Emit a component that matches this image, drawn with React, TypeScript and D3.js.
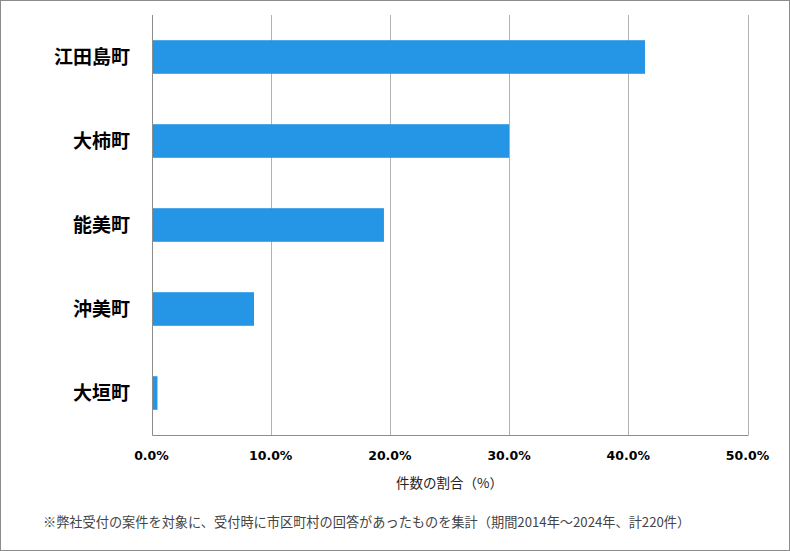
import * as d3 from 'd3'
import { useEffect, useRef } from 'react'

const towns = ['江田島町', '大柿町', '能美町', '沖美町', '大垣町']
const shares = [41.4, 30.0, 19.5, 8.6, 0.5]
const ticks = [0, 10, 20, 30, 40, 50]
const axisTitle = '件数の割合（%）'
const footnote =
  '※弊社受付の案件を対象に、受付時に市区町村の回答があったものを集計（期間2014年～2024年、計220件）'

export default function App() {
  const ref = useRef<SVGSVGElement>(null)

  useEffect(() => {
    if (!ref.current) return
    const svg = d3.select(ref.current)
    svg.selectAll('*').remove()

    const width = 790
    const height = 551
    const margin = { top: 15, right: 42.5, bottom: 116, left: 151.5 }
    const jp = '"Noto Sans CJK JP", "Noto Sans", sans-serif'

    svg.attr('width', width).attr('height', height)

    // Outer frame
    svg
      .append('rect')
      .attr('x', 0.5)
      .attr('y', 0.5)
      .attr('width', width - 1)
      .attr('height', height - 1)
      .attr('fill', '#fff')
      .attr('stroke', '#8c8c8c')

    const x = d3
      .scaleLinear()
      .domain([0, 50])
      .range([margin.left, width - margin.right])

    const y = d3
      .scaleBand()
      .domain(towns)
      .range([margin.top, height - margin.bottom])
      .paddingInner(0.6)
      .paddingOuter(0.3)

    // Gridlines
    svg
      .append('g')
      .selectAll('line')
      .data(ticks.filter(t => t > 0))
      .enter()
      .append('line')
      .attr('x1', d => Math.round(x(d)) + 0.5)
      .attr('x2', d => Math.round(x(d)) + 0.5)
      .attr('y1', margin.top)
      .attr('y2', height - margin.bottom)
      .attr('stroke', '#b3b3b3')

    // Axis lines
    const x0 = Math.round(x(0)) + 0.5
    const yb = Math.round(height - margin.bottom) + 0.5
    svg
      .append('line')
      .attr('x1', x0)
      .attr('x2', x0)
      .attr('y1', margin.top)
      .attr('y2', yb)
      .attr('stroke', '#8c8c8c')
    svg
      .append('line')
      .attr('x1', x0)
      .attr('x2', Math.round(x(50)) + 0.5)
      .attr('y1', yb)
      .attr('y2', yb)
      .attr('stroke', '#8c8c8c')

    // Bars
    svg
      .append('g')
      .selectAll('rect')
      .data(towns.map((t, i) => ({ town: t, value: shares[i] })))
      .enter()
      .append('rect')
      .attr('x', x0 + 0.5)
      .attr('y', d => y(d.town)!)
      .attr('width', d => x(d.value) - x0 - 0.5)
      .attr('height', y.bandwidth())
      .attr('fill', '#2595e5')

    // Tick labels
    svg
      .append('g')
      .selectAll('text')
      .data(ticks)
      .enter()
      .append('text')
      .attr('x', d => x(d))
      .attr('y', 460)
      .attr('text-anchor', 'middle')
      .style('font-family', '"DejaVu Sans", sans-serif')
      .style('font-size', '12.5px')
      .style('font-weight', 'bold')
      .attr('fill', '#000')
      .text(d => d3.format('.1f')(d) + '%')

    // Category labels
    svg
      .append('g')
      .selectAll('text')
      .data(towns)
      .enter()
      .append('text')
      .attr('x', 130)
      .attr('y', d => y(d)! + y.bandwidth() / 2)
      .attr('dy', '0.36em')
      .attr('text-anchor', 'end')
      .style('font-family', jp)
      .style('font-size', '19px')
      .style('font-weight', 'bold')
      .attr('fill', '#000')
      .text(d => d)

    // Axis title
    svg
      .append('text')
      .attr('x', (x(0) + x(50)) / 2)
      .attr('y', 488)
      .attr('text-anchor', 'middle')
      .style('font-family', jp)
      .style('font-size', '13.5px')
      .attr('fill', '#222')
      .text(axisTitle)

    // Footnote
    svg
      .append('text')
      .attr('x', 43)
      .attr('y', 527)
      .style('font-family', jp)
      .style('font-size', '13.2px')
      .attr('fill', '#444')
      .text(footnote)
  }, [])

  return (
    <div style={{ position: 'absolute', left: 0, top: 0 }}>
      <svg ref={ref} style={{ display: 'block' }}></svg>
    </div>
  )
}
